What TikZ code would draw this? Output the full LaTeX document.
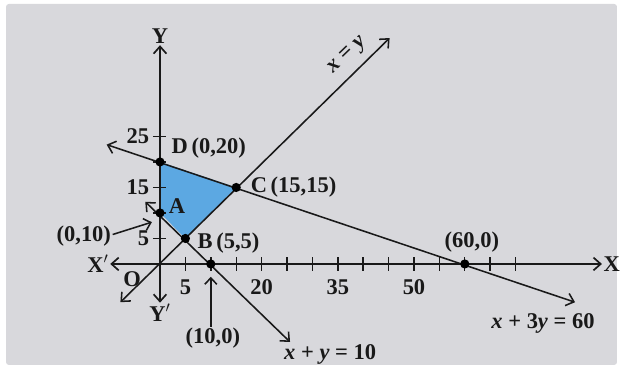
\documentclass[tikz,border=0pt]{standalone}
\usepackage{fontspec}
\setmainfont{Liberation Serif}
\usetikzlibrary{positioning, arrows.meta, calc, backgrounds}
\definecolor{regionblue}{RGB}{92,168,226}
\definecolor{paper}{RGB}{216,216,220}
\newcommand{\vx}{\textit{x}}
\newcommand{\vy}{\textit{y}}

\begin{document}
\begin{tikzpicture}[
  x=0.127cm, y=0.1275cm,
  font=\fontsize{16}{18}\selectfont\bfseries,
  axis/.style={line width=1.2pt, draw=black!90,
               {Straight Barb[length=1.8mm, width=3.2mm]}-{Straight Barb[length=1.8mm, width=3.2mm]}},
  ln/.style={line width=1.1pt, draw=black!90,
             {Straight Barb[length=1.8mm, width=3.2mm]}-{Straight Barb[length=1.8mm, width=3.2mm]}},
  ptr/.style={-{Straight Barb[length=1.6mm, width=3mm]}, line width=1.1pt, draw=black!90},
  tick/.style={line width=1pt, draw=black!90},
  dot/.style={circle, fill=black, inner sep=0pt, minimum size=2.3mm},
  lbl/.style={inner sep=1pt, text=black!90}
]

\useasboundingbox (-31.50,-21.18) rectangle (90.75,51.76);
\fill[white] (-31.50,-21.18) rectangle (90.75,51.76);
\fill[paper, rounded corners=2pt] (-30.31,-19.8) rectangle (89.96,50.98);

% corner points
\coordinate (O) at (0,0);
\coordinate (D) at (0,20);
\coordinate (A) at (0,10);
\coordinate (C) at (15,15);
\coordinate (B) at (5,5);
\coordinate (E) at (10,0);
\coordinate (F) at (60,0);

% feasible region
\fill[regionblue] (D) -- (C) -- (B) -- (A) -- cycle;

% line ends
\coordinate (xyS) at (-7.8,-7.5);
\coordinate (xyE) at (45.2,44.3);
\coordinate (l1S) at (-2.9,12.2);
\coordinate (l1E) at (25.6,-15.3);
\coordinate (l2S) at (-10.5,23.4);
\coordinate (l2E) at (81.7,-7.5);

\draw[ln] (xyS) -- (xyE);
\draw[ln] (l1S) -- (l1E);
\draw[ln] (l2S) -- (l2E);

% axes
\coordinate (xl) at (-9.8,0);
\coordinate (xr) at (87.0,0);
\coordinate (yb) at (0,-7.6);
\coordinate (yt) at (0,42.9);
\draw[axis] (xl) -- (xr);
\draw[axis] (yb) -- (yt);

\foreach \t in {5,10,...,70}
  \draw[tick] (\t,-1.3) -- (\t,1.3);
\foreach \t in {5,10,...,25}
  \draw[tick] (-1.4,\t) -- (1.2,\t);
\foreach \t in {5,20,35,50}
  \node[lbl] at (\t,-4.6) {\t};
\foreach \t in {5,15,25}
  \node[lbl, anchor=east] at (-1.8,\t) {\t};

\node[lbl, anchor=west] at (xr) {X};
\node[lbl, anchor=east] at (xl) {X$'$};
\node[lbl, anchor=south] at (yt) {Y};
\node[lbl, anchor=north] at (yb) {Y$'$};
\node[lbl] at (-5.5,-2.9) {O};

% dots
\foreach \p in {D,A,C,B,E,F}
  \node[dot] (\p dot) at (\p) {};

% point labels
\node[lbl, anchor=south west] at ([xshift=1.6mm, yshift=-0.4mm]Ddot.north east) {D\,(0,20)};
\node[lbl, anchor=west] at ([xshift=2mm]Cdot.east) {C\,(15,15)};
\node[lbl, anchor=west] at ([xshift=0.6mm, yshift=1.6mm]Adot.east) {A};
\node[lbl, anchor=west] at ([xshift=1.4mm, yshift=-1.2mm]Bdot.east) {B\,(5,5)};
\node[lbl] at (61.4,4.3) {(60,0)};

\node[lbl] (lblA) at (-15,5.5) {(0,10)};
\coordinate (ptrA) at (-1.6,8.2);
\draw[ptr] ([yshift=1pt]lblA.east) -- (ptrA);

\node[lbl] (lblE) at (10.4,-14.6) {(10,0)};
\draw[ptr, shorten >=3.2mm] (lblE.north -| E) -- (E);

% line labels
\node[lbl, rotate=44, font=\fontsize{16}{18}\selectfont\bfseries\itshape] at (37.0,40.8) {x = y};
\node[lbl] at (33.5,-17.8) {\vx{} + \vy{} = 10};
\node[lbl] at (75.4,-11.6) {\vx{} + 3\vy{} = 60};

\end{tikzpicture}
\end{document}
